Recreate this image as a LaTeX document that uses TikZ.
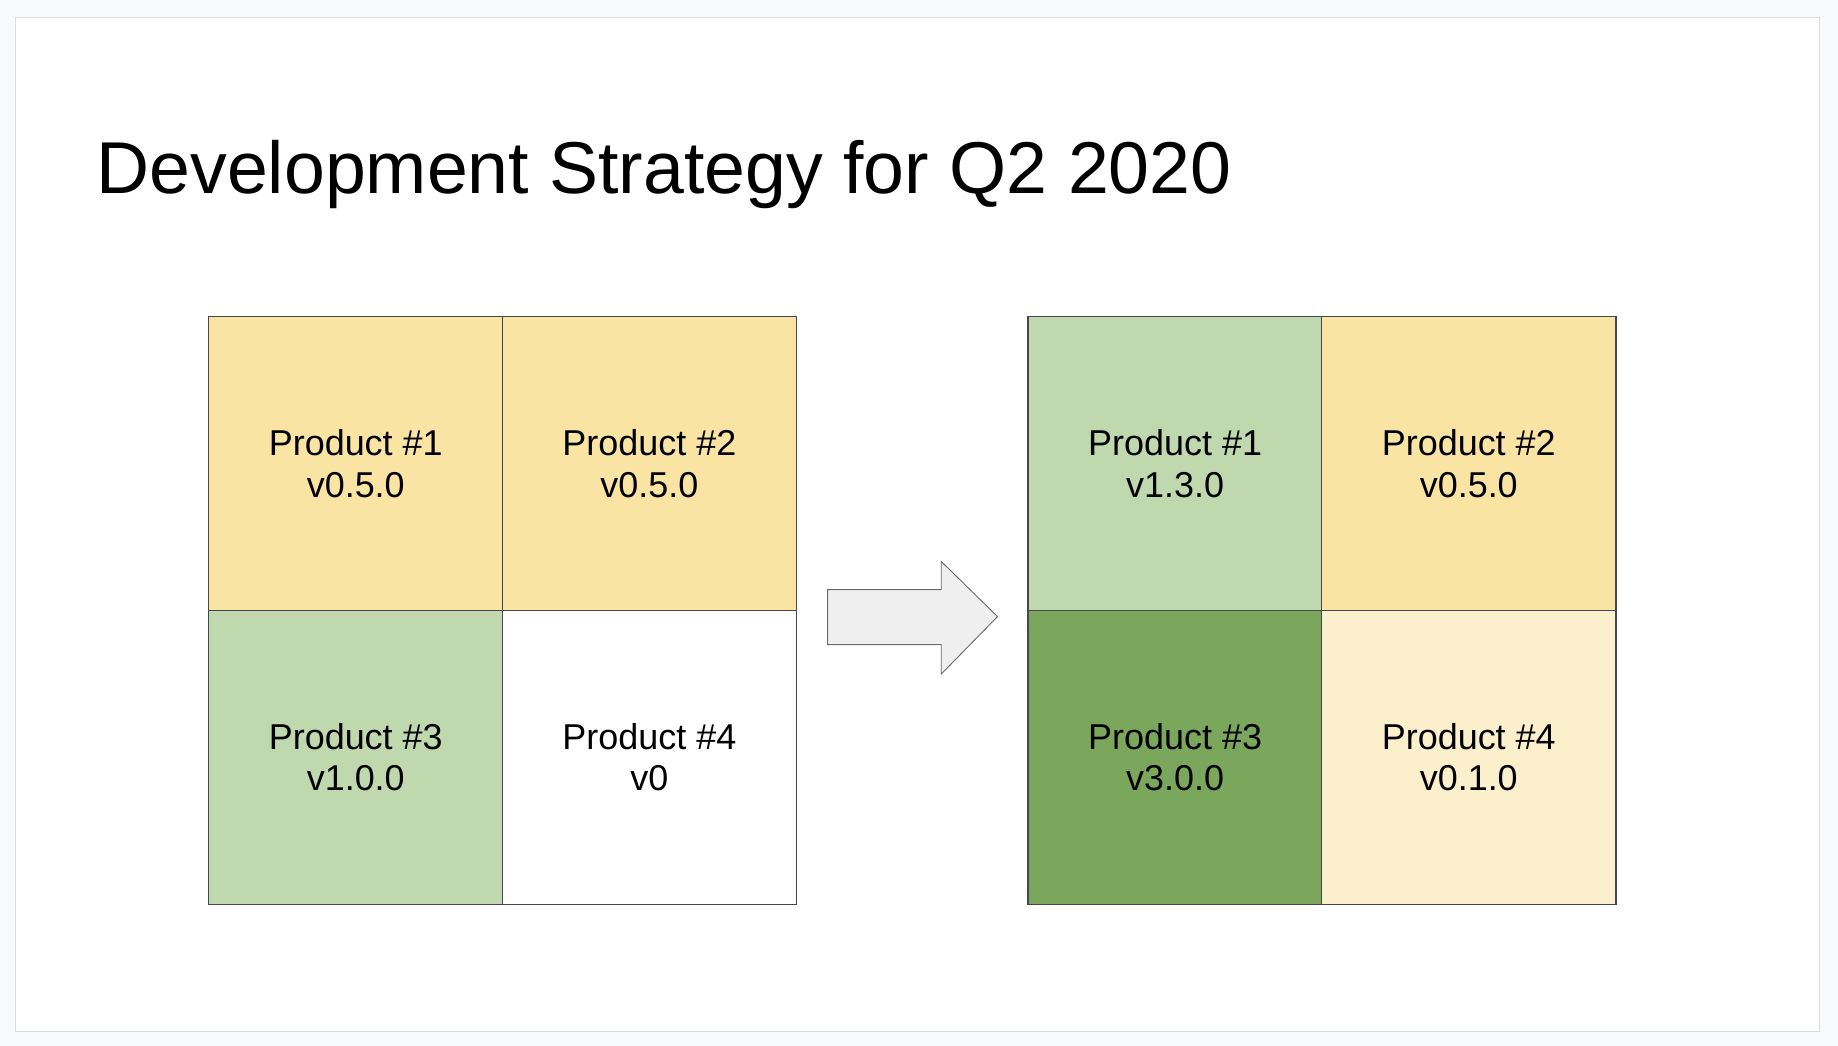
\documentclass[tikz,border=0pt]{standalone}
\usepackage{fontspec}
\setmainfont{Liberation Sans}
\definecolor{pagegrey}{RGB}{248,249,250}
\definecolor{slideline}{RGB}{218,220,224}
\definecolor{cellline}{RGB}{70,70,80}
\definecolor{yellowA}{RGB}{249,228,164}
\definecolor{yellowB}{RGB}{252,240,204}
\definecolor{greenA}{RGB}{191,216,174}
\definecolor{greenB}{RGB}{122,167,91}
\definecolor{arrowfill}{RGB}{239,239,239}
\tikzset{
  cell/.style={draw=cellline, line width=0.8pt, minimum width=188.25pt, minimum height=188.25pt,
    inner sep=0pt, align=center, font=\fontsize{23}{26.5}\selectfont},
}
\begin{document}
\begin{tikzpicture}[x=0.75pt,y=0.75pt,yscale=-1,xscale=1]
\useasboundingbox (0,0) rectangle (1568,892);
% page and slide
\fill[pagegrey] (0,0) rectangle (1568,892);
\draw[slideline, fill=white] (13,15) rectangle (1552,880);

% Text Node
\node (title) [anchor=base west, inner sep=0pt, font=\fontsize{47}{56}\selectfont] at (82,165) {Development Strategy for Q2 2020};

% left grid
\node (l1) [cell, fill=yellowA] at (303.5,395.5) {Product \#1\\v0.5.0};
\node (l2) [cell, fill=yellowA] at (554,395.5) {Product \#2\\v0.5.0};
\node (l3) [cell, fill=greenA] at (303.5,646) {Product \#3\\v1.0.0};
\node (l4) [cell, fill=white] at (554,646) {Product \#4\\v0};

% right grid
\node (r1) [cell, fill=greenA] at (1002.5,395.5) {Product \#1\\v1.3.0};
\node (r2) [cell, fill=yellowA] at (1253,395.5) {Product \#2\\v0.5.0};
\node (r3) [cell, fill=greenB] at (1002.5,646) {Product \#3\\v3.0.0};
\node (r4) [cell, fill=yellowB] at (1253,646) {Product \#4\\v0.1.0};

% Shape: Right Arrow
\draw[cellline!80, fill=arrowfill, line width=0.6pt] (706,503) -- (803,503) -- (803,479) -- (851,526) -- (803,575) -- (803,550) -- (706,550) -- cycle;
\end{tikzpicture}
\end{document}
